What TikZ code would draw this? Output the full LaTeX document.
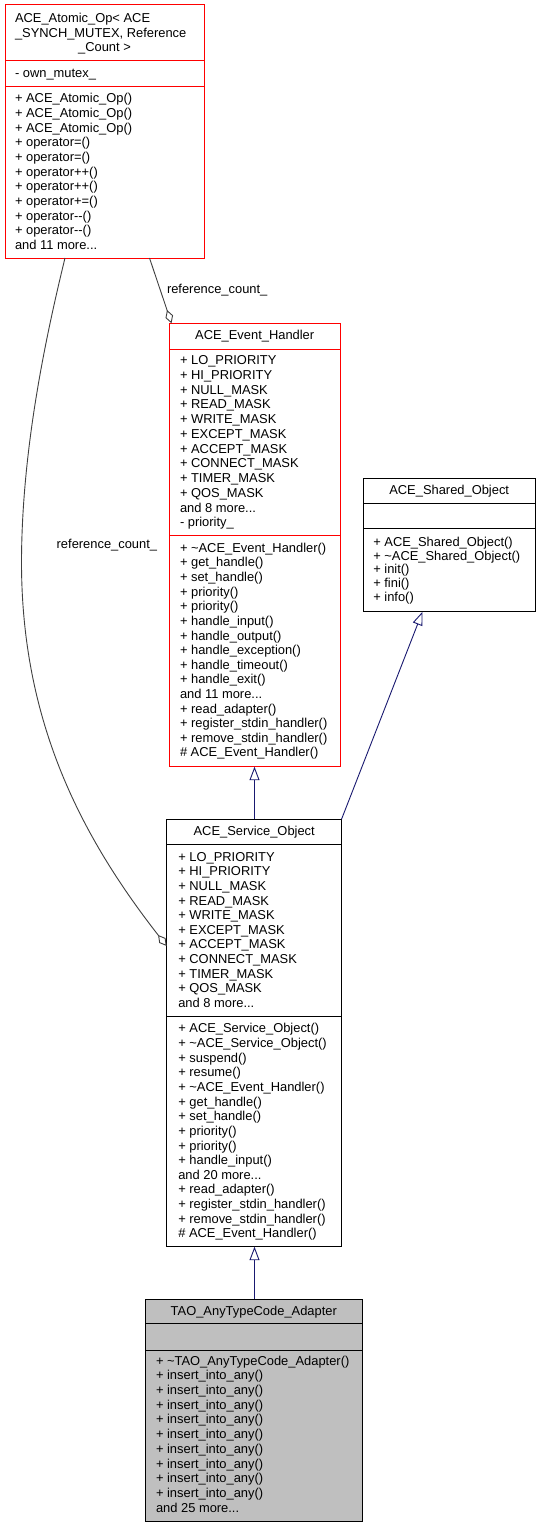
\documentclass[tikz,border=0pt]{standalone}
\usepackage{fontspec}
\setmainfont{Liberation Sans}
\usetikzlibrary{arrows.meta}
\definecolor{navyedge}{HTML}{191970}
\definecolor{grayedge}{HTML}{404040}
\definecolor{boxred}{HTML}{FF0000}
\definecolor{boxgray}{HTML}{BFBFBF}
\newcommand\mydots{...}
\newcommand\rowsat[5]{%
  \foreach \rowtext [count=\i from 0] in {#5}
    \node[txt] (#1-\i) at (#2, #3+4.6+\i*#4) {\rowtext};}
\begin{document}
\begin{tikzpicture}[x=1pt,y=-1pt,
  font=\fontsize{12.9}{14.7}\selectfont,
  redbox/.style={draw=boxred, line width=1pt, fill=white, inner sep=0pt, outer sep=0pt, anchor=north west},
  blkbox/.style={draw=black, line width=1pt, fill=white, inner sep=0pt, outer sep=0pt, anchor=north west},
  graybox/.style={draw=black, line width=1pt, fill=boxgray, inner sep=0pt, outer sep=0pt, anchor=north west},
  txt/.style={anchor=base west, inner sep=0pt, outer sep=0pt},
  ctxt/.style={anchor=base, inner sep=0pt, outer sep=0pt},
  inh/.style={draw=navyedge, line width=0.9pt, -{Triangle[open, length=13.5pt, width=10pt]}},
  agg/.style={draw=grayedge, line width=0.9pt, -{Diamond[open, length=14pt, width=8pt]}},
  lbl/.style={anchor=base west, inner sep=0pt, outer sep=0pt}
]
\useasboundingbox (0,0) rectangle (540,1528);
\fill[white] (0,0) rectangle (540,1528);

% ---- Box A: ACE_Atomic_Op
\node[redbox, minimum width=199pt, minimum height=253pt] (A) at (5,5) {};
\draw[boxred, line width=1pt] (A.west |- 0,60.5) -- (A.east |- 0,60.5);
\draw[boxred, line width=1pt] (A.west |- 0,86) -- (A.east |- 0,86);
\node[txt] (A-t1) at (15,17.5+4.6) {ACE\_Atomic\_Op< ACE};
\node[txt] (A-t2) at (15,32.5+4.6) {\_SYNCH\_MUTEX, Reference};
\node[ctxt] (A-t3) at (104.5,47+4.6) {\_Count >};
\node[txt] (A-a0) at (15,72.5+4.6) {- own\_mutex\_};
\rowsat{A-m}{15}{98}{14.7}{+ ACE\_Atomic\_Op(),+ ACE\_Atomic\_Op(),+ ACE\_Atomic\_Op(),+ operator=(),+ operator=(),+ operator++(),+ operator++(),+ operator+=(),+ operator-{}-(),+ operator-{}-(),and 11 more\mydots}

% ---- Box B: ACE_Event_Handler
\node[redbox, minimum width=170.7pt, minimum height=443.4pt] (B) at (169.3,323.3) {};
\draw[boxred, line width=1pt] (B.west |- 0,349.3) -- (B.east |- 0,349.3);
\draw[boxred, line width=1pt] (B.west |- 0,535.7) -- (B.east |- 0,535.7);
\node[ctxt] (B-t) at (254.7,335+4.6) {ACE\_Event\_Handler};
\rowsat{B-a}{180}{360}{14.75}{+ LO\_PRIORITY,+ HI\_PRIORITY,+ NULL\_MASK,+ READ\_MASK,+ WRITE\_MASK,+ EXCEPT\_MASK,+ ACCEPT\_MASK,+ CONNECT\_MASK,+ TIMER\_MASK,+ QOS\_MASK,and 8 more\mydots,- priority\_}
\rowsat{B-m}{180}{547.7}{14.62}{+ \textasciitilde ACE\_Event\_Handler(),+ get\_handle(),+ set\_handle(),+ priority(),+ priority(),+ handle\_input(),+ handle\_output(),+ handle\_exception(),+ handle\_timeout(),+ handle\_exit(),and 11 more\mydots,+ read\_adapter(),+ register\_stdin\_handler(),+ remove\_stdin\_handler(),\# ACE\_Event\_Handler()}

% ---- Box C: ACE_Shared_Object
\node[blkbox, minimum width=171.7pt, minimum height=133.4pt] (C) at (363.3,478.3) {};
\draw[black, line width=1pt] (C.west |- 0,503.3) -- (C.east |- 0,503.3);
\draw[black, line width=1pt] (C.west |- 0,528.3) -- (C.east |- 0,528.3);
\node[ctxt] (C-t) at (449.2,490+4.6) {ACE\_Shared\_Object};
\rowsat{C-m}{373.3}{541.7}{13.75}{+ ACE\_Shared\_Object(),+ \textasciitilde ACE\_Shared\_Object(),+ init(),+ fini(),+ info()}

% ---- Box D: ACE_Service_Object
\node[blkbox, minimum width=175pt, minimum height=427.4pt] (D) at (166.7,819.3) {};
\draw[black, line width=1pt] (D.west |- 0,844.3) -- (D.east |- 0,844.3);
\draw[black, line width=1pt] (D.west |- 0,1016.3) -- (D.east |- 0,1016.3);
\node[ctxt] (D-t) at (254.2,830.7+4.6) {ACE\_Service\_Object};
\rowsat{D-a}{178.3}{856.7}{14.6}{+ LO\_PRIORITY,+ HI\_PRIORITY,+ NULL\_MASK,+ READ\_MASK,+ WRITE\_MASK,+ EXCEPT\_MASK,+ ACCEPT\_MASK,+ CONNECT\_MASK,+ TIMER\_MASK,+ QOS\_MASK,and 8 more\mydots}
\rowsat{D-m}{178.3}{1028.3}{14.64}{+ ACE\_Service\_Object(),+ \textasciitilde ACE\_Service\_Object(),+ suspend(),+ resume(),+ \textasciitilde ACE\_Event\_Handler(),+ get\_handle(),+ set\_handle(),+ priority(),+ priority(),+ handle\_input(),and 20 more\mydots,+ read\_adapter(),+ register\_stdin\_handler(),+ remove\_stdin\_handler(),\# ACE\_Event\_Handler()}

% ---- Box E: TAO_AnyTypeCode_Adapter
\node[graybox, minimum width=217.7pt, minimum height=222.4pt] (E) at (145,1299.3) {};
\draw[black, line width=1pt] (E.west |- 0,1323.3) -- (E.east |- 0,1323.3);
\draw[black, line width=1pt] (E.west |- 0,1350) -- (E.east |- 0,1350);
\node[ctxt] (E-t) at (253.8,1310.7+4.6) {TAO\_AnyTypeCode\_Adapter};
\rowsat{E-m}{156}{1360.7}{14.67}{+ \textasciitilde TAO\_AnyTypeCode\_Adapter(),+ insert\_into\_any(),+ insert\_into\_any(),+ insert\_into\_any(),+ insert\_into\_any(),+ insert\_into\_any(),+ insert\_into\_any(),+ insert\_into\_any(),+ insert\_into\_any(),+ insert\_into\_any(),and 25 more\mydots}

% ---- Connectors
\draw[inh] (E.north -| 254.5,0) -- (D.south -| 254.5,0);
\draw[inh] (D.north -| 254.5,0) -- (B.south -| 254.5,0);
\draw[inh] (D.north -| 341.5,0) -- (C.south -| 422.5,0);
\draw[agg] (A.south -| 149.5,0) -- (B.north -| 171.5,0);
\draw[agg] (A.south -| 65,0) .. controls (45,340) and (22,450) .. (21.5,560)
  .. controls (21,720) and (80,835) .. (D.west |- 0,946);
\node[lbl] (L1) at (167,293.5) {reference\_count\_};
\node[lbl] (L2) at (56.7,548.3) {reference\_count\_};
\end{tikzpicture}
\end{document}
